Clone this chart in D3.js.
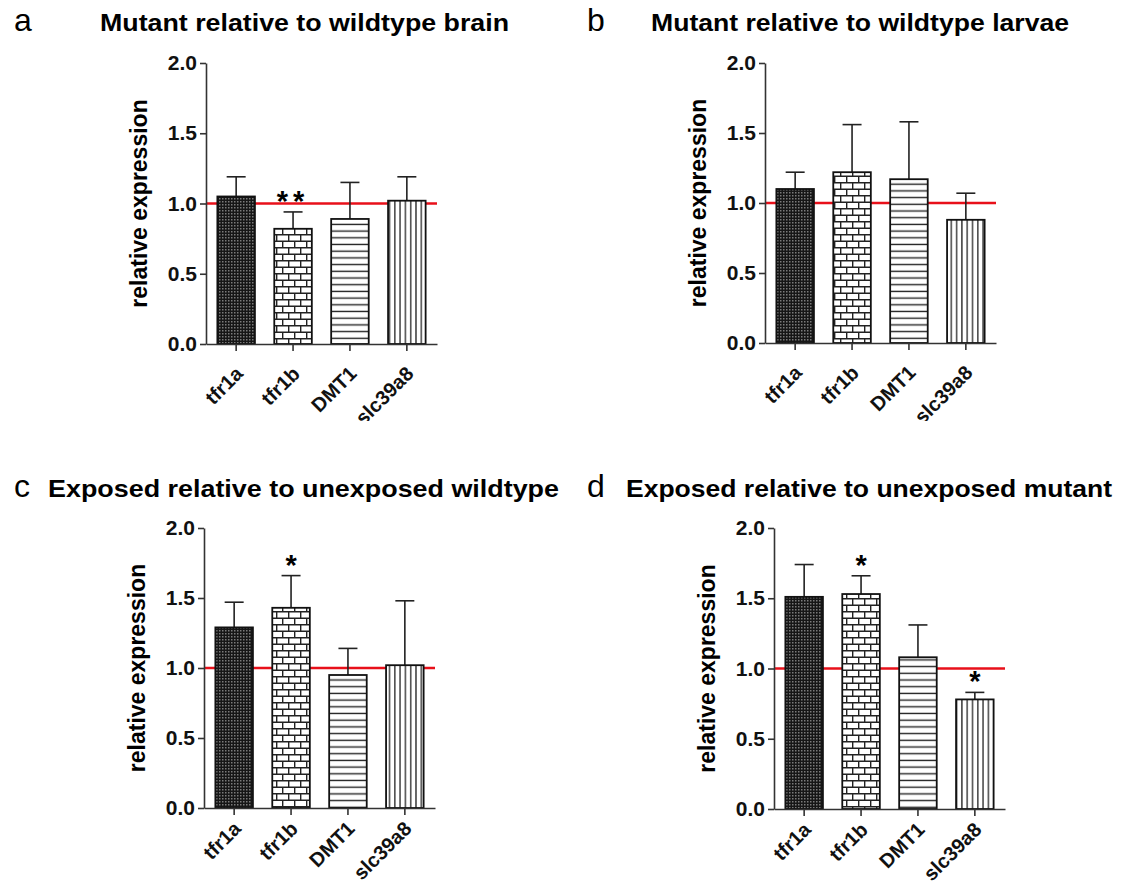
<html>
  <head>
    <script src="https://d3js.org/d3.v7.min.js"></script>
    <style>
      body { margin: 0; background: #fff; }
      text { font-family: Arial, "Liberation Sans", sans-serif; }
    </style>
  </head>
  <body>
    <svg width="1125" height="892" id="fig"></svg>
    <script>
      // genes on the x axis
      const genes = ["tfr1a", "tfr1b", "DMT1", "slc39a8"];
      const yTicks = [0, 0.5, 1.0, 1.5, 2.0];

      const letters = ["a", "b", "c", "d"];
      const titles = [
        "Mutant relative to wildtype brain",
        "Mutant relative to wildtype larvae",
        "Exposed relative to unexposed wildtype",
        "Exposed relative to unexposed mutant",
      ];

      // mean relative expression and SEM per panel
      const meanA = [1.05, 0.82, 0.89, 1.02];
      const semA = [0.14, 0.12, 0.26, 0.17];
      const starsA = ["", "**", "", ""];

      const meanB = [1.10, 1.22, 1.17, 0.88];
      const semB = [0.12, 0.34, 0.41, 0.19];
      const starsB = ["", "", "", ""];

      const meanC = [1.29, 1.43, 0.95, 1.02];
      const semC = [0.18, 0.23, 0.19, 0.46];
      const starsC = ["", "*", "", ""];

      const meanD = [1.51, 1.53, 1.08, 0.78];
      const semD = [0.23, 0.13, 0.23, 0.05];
      const starsD = ["", "*", "", "*"];

      const means = [meanA, meanB, meanC, meanD];
      const sems = [semA, semB, semC, semD];
      const stars = [starsA, starsB, starsC, starsD];

      // where each panel sits on the page
      const layout = [
        { ax: 206, top: 63, bot: 344, lx: 14, ly: 31, tx: 100, ty: 31, tw: 409, clip: 421, labDy: 31 },
        { ax: 765, top: 63, bot: 343, lx: 587, ly: 31, tx: 651, ty: 31, tw: 418, clip: 421, labDy: 31 },
        { ax: 204, top: 528, bot: 808, lx: 14, ly: 497, tx: 48, ty: 497, tw: 511, clip: 892, labDy: 22 },
        { ax: 774, top: 528, bot: 809, lx: 587, ly: 497, tx: 626, ty: 497, tw: 486, clip: 892, labDy: 22 },
      ];
      const axisLen = 231;

      const svg = d3.select("svg#fig");
      const defs = svg.append("defs");

      // fill patterns, one per gene
      const pChk = defs.append("pattern").attr("id", "p0")
        .attr("patternUnits", "userSpaceOnUse").attr("width", 3).attr("height", 3);
      pChk.append("rect").attr("width", 3).attr("height", 3).attr("fill", "#161616");
      pChk.append("rect").attr("width", 1.5).attr("height", 1.5).attr("fill", "#7a7a7a");

      const pBrick = defs.append("pattern").attr("id", "p1")
        .attr("patternUnits", "userSpaceOnUse").attr("width", 12).attr("height", 13);
      pBrick.append("rect").attr("width", 12).attr("height", 13).attr("fill", "#fff");
      pBrick.append("path")
        .attr("d", "M0,0.7H12M0,7.2H12M0.7,0.7V7.2M6.7,7.2V13")
        .attr("stroke", "#222").attr("stroke-width", 1.4).attr("fill", "none");

      const pHor = defs.append("pattern").attr("id", "p2")
        .attr("patternUnits", "userSpaceOnUse").attr("width", 8).attr("height", 6.7);
      pHor.append("rect").attr("width", 8).attr("height", 6.7).attr("fill", "#fff");
      pHor.append("path").attr("d", "M0,3.3H8")
        .attr("stroke", "#222").attr("stroke-width", 1.4);

      const pVer = defs.append("pattern").attr("id", "p3")
        .attr("patternUnits", "userSpaceOnUse").attr("width", 5.3).attr("height", 8);
      pVer.append("rect").attr("width", 5.3).attr("height", 8).attr("fill", "#fff");
      pVer.append("path").attr("d", "M2.6,0V8")
        .attr("stroke", "#222").attr("stroke-width", 1.3);

      layout.forEach((L, i) => {
        defs.append("clipPath").attr("id", "clip" + i)
          .append("rect").attr("x", L.ax - 210).attr("y", 0)
          .attr("width", 570).attr("height", L.clip);

        const g = svg.append("g").attr("clip-path", `url(#clip${i})`);

        // panel letter and title
        g.append("text").attr("x", L.lx).attr("y", L.ly)
          .style("font-size", "32px").text(letters[i]);
        g.append("text").attr("x", L.tx).attr("y", L.ty)
          .attr("textLength", L.tw).attr("lengthAdjust", "spacingAndGlyphs")
          .style("font-size", "24px").style("font-weight", "bold")
          .text(titles[i]);

        const x = d3.scaleBand().domain(genes)
          .range([L.ax, L.ax + axisLen])
          .paddingInner(0.34).paddingOuter(0.2);
        const y = d3.scaleLinear().domain([0, 2]).range([L.bot, L.top]);

        // reference line at 1.0
        g.append("line")
          .attr("x1", L.ax).attr("x2", L.ax + axisLen)
          .attr("y1", y(1)).attr("y2", y(1))
          .style("stroke", "#e8101a").style("stroke-width", 2.6);

        // error bars (upper only)
        genes.forEach((gene, j) => {
          const cx = x(gene) + x.bandwidth() / 2;
          const hi = y(means[i][j] + sems[i][j]);
          g.append("line")
            .attr("x1", cx).attr("x2", cx)
            .attr("y1", y(means[i][j])).attr("y2", hi)
            .style("stroke", "#222").style("stroke-width", 1.6);
          g.append("line")
            .attr("x1", cx - 9.5).attr("x2", cx + 9.5)
            .attr("y1", hi).attr("y2", hi)
            .style("stroke", "#222").style("stroke-width", 1.6);
          if (stars[i][j]) {
            g.append("text")
              .attr("x", cx).attr("y", hi - 1)
              .attr("text-anchor", "middle")
              .style("font-size", "29px").style("font-weight", "bold")
              .style("letter-spacing", stars[i][j].length > 1 ? "5px" : "0px")
              .text(stars[i][j]);
          }
        });

        // bars
        genes.forEach((gene, j) => {
          g.append("rect")
            .attr("x", x(gene))
            .attr("y", y(means[i][j]))
            .attr("width", x.bandwidth())
            .attr("height", y(0) - y(means[i][j]))
            .attr("fill", `url(#p${j})`)
            .style("stroke", "#111").style("stroke-width", 1.8);
        });

        // axes
        const yAxis = g.append("g")
          .attr("transform", `translate(${L.ax},0)`)
          .call(d3.axisLeft(y).tickValues(yTicks).tickFormat(d3.format(".1f"))
            .tickSize(6).tickSizeOuter(0).tickPadding(3));
        yAxis.selectAll("text").style("font-size", "21px").style("font-weight", "bold")
          .attr("fill", "#111");

        const xAxis = g.append("g")
          .attr("transform", `translate(0,${L.bot})`)
          .call(d3.axisBottom(x).tickSize(7).tickSizeOuter(0));
        xAxis.selectAll("text")
          .style("font-size", "20px").style("font-weight", "bold")
          .attr("fill", "#111")
          .attr("text-anchor", "end")
          .attr("x", 0).attr("y", 0).attr("dy", 0)
          .attr("transform", `translate(8,${L.labDy}) rotate(-45)`);

        [yAxis, xAxis].forEach((a) => {
          a.selectAll("path, line").style("stroke", "#333").style("stroke-width", 1.6);
        });

        // y label
        g.append("text")
          .attr("transform", `translate(${L.ax - 59},${(L.top + L.bot) / 2}) rotate(-90)`)
          .attr("text-anchor", "middle")
          .style("font-size", "23px").style("font-weight", "bold")
          .text("relative expression");
      });
    </script>
  </body>
</html>
